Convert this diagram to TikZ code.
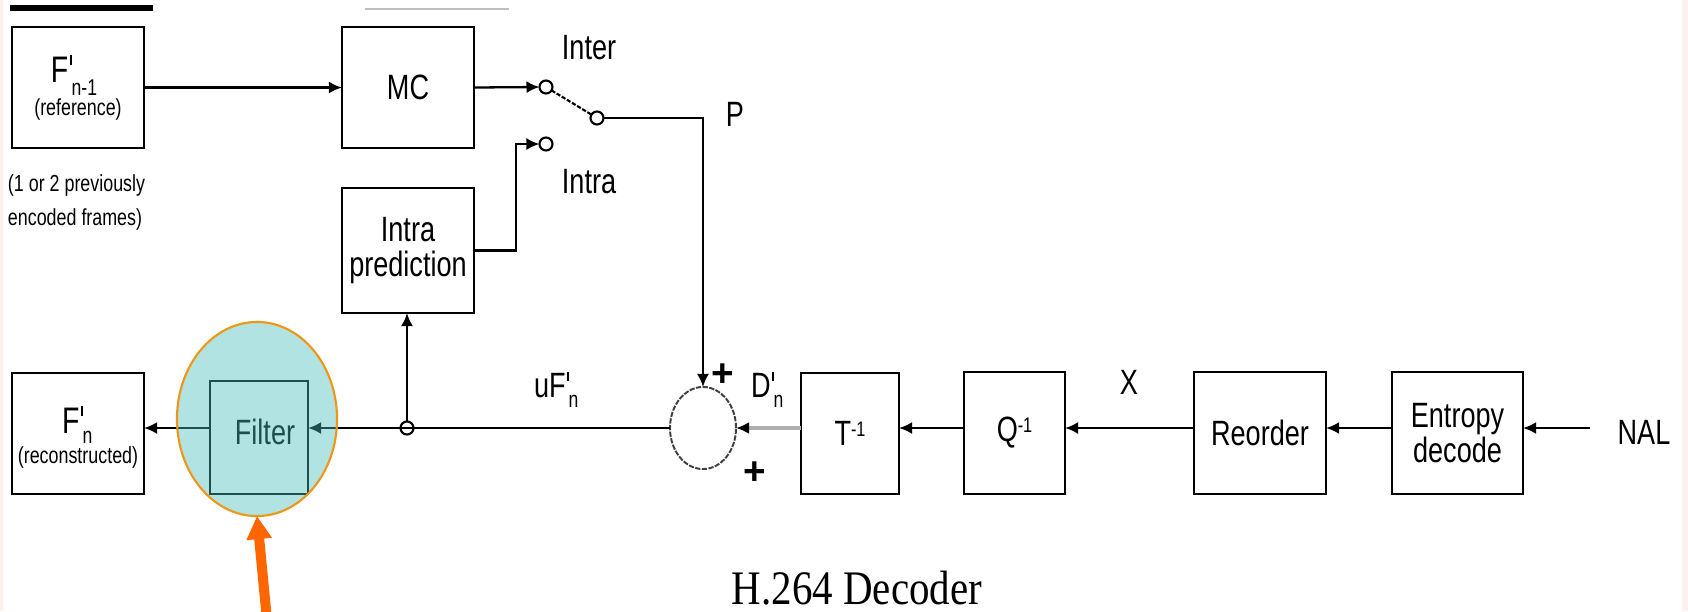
\documentclass[tikz,border=0pt]{standalone}
\usepackage{fontspec}
\setmainfont{Liberation Sans}
\newfontfamily\capfont{Liberation Serif}
\usetikzlibrary{arrows.meta,shapes.geometric}
\definecolor{hlfill}{RGB}{71,190,190}
\definecolor{hlline}{RGB}{240,150,20}
\definecolor{oarr}{RGB}{255,102,0}
\definecolor{pinkbg}{RGB}{252,241,236}
\definecolor{dgray}{RGB}{175,175,175}
\newcommand{\cn}[1]{\scalebox{0.77}[1]{#1}}
\newcommand{\prm}{\kern0.04em\rule[0.45em]{0.075em}{0.27em}}
\newcommand{\fs}[1]{\fontsize{#1}{#1}\selectfont}
\newcommand{\sbs}[2]{\raisebox{-#1}{\fs{6.5}#2}}
\begin{document}
\begin{tikzpicture}[x=0.01cm,y=-0.01cm,
  every node/.style={inner sep=0pt, outer sep=0pt},
  box/.style={draw, line width=0.7pt, font=\fs{10}, align=center},
  lbl/.style={font=\fs{10}},
  sml/.style={font=\fs{6.6}},
  contact/.style={circle, draw, line width=0.6pt, minimum size=0.13cm},
  wire/.style={line width=0.65pt},
  arr/.style={wire, -{Latex[length=1.3mm,width=1.2mm]}},
  blade/.style={line width=0.6pt, dash pattern=on 1.2pt off 0.5pt},
  gline/.style={draw=dgray, line width=1.1pt, -{Latex[length=1.3mm,width=1.2mm,color=black]}},
  plus/.style={font=\fs{11}\bfseries}]
\fill[white] (0,0) rectangle (1688,611);
\path[use as bounding box] (0,0) rectangle (1688,611);
\fill[pinkbg] (1682,0) rectangle (1688,611);
\fill[pinkbg] (0,0) rectangle (3,611);
\draw[line width=1.8pt] (10,8) -- (153,8);
\draw[line width=0.6pt, black!25] (365,9) -- (509,9);

% reference frame
\node[box, minimum width=1.32cm, minimum height=1.21cm] (fref) at (78,87.5) {};
\node[anchor=base west, font=\fs{10.5}] (frefF) at (51,82) {\cn{F\prm\sbs{3.7pt}{n-1}}};
\node[sml] (frefr) at (78,109) {\cn{(reference)}};
\node[anchor=west, sml] (prev1) at (8,185) {\cn{(1 or 2 previously}};
\node[anchor=west, sml] (prev2) at (8,219) {\cn{encoded frames)}};

% MC and intra prediction
\node[box, minimum width=1.32cm, minimum height=1.21cm] (mc) at (408,87.5) {\cn{MC}};
\node[box, minimum width=1.32cm, minimum height=1.25cm] (intra) at (408,250.5) {\cn{Intra}\\\cn{prediction}};

% switch
\node[contact] (c1) at (546,87) {};
\node[contact] (c2) at (546,144) {};
\node[contact] (c3) at (597,118) {};
\node[lbl] (linter) at (589,48) {\cn{Inter}};
\node[lbl] (lintra) at (589,182) {\cn{Intra}};
\node[lbl] (lp) at (735,114) {\cn{P}};

% reconstructed frame and filter
\node[box, minimum width=1.32cm, minimum height=1.21cm] (fn) at (78,433.5) {};
\node[anchor=base west, font=\fs{10.5}] (fnF) at (62,433) {\cn{F\prm\sbs{2.9pt}{n}}};
\node[sml] (fnr) at (78,457) {\cn{(reconstructed)}};
\node[box, minimum width=0.98cm, minimum height=1.13cm] (filt) at (259,437.5) {};
\node[lbl] (filtt) at (265,432) {\cn{Filter}};
\node[circle, draw, line width=0.6pt, minimum size=0.13cm] (j) at (407,428) {};

% adder
\node[ellipse, draw=black!75, line width=0.55pt, dash pattern=on 1.5pt off 0.4pt, minimum width=0.66cm, minimum height=0.82cm] (sum) at (703,428) {};
\node[plus] (p1) at (723,375) {+};
\node[plus] (p2) at (755,473) {+};
\node[anchor=base west, lbl] (uf) at (534,397) {\cn{uF\prm\sbs{2.9pt}{n}}};
\node[anchor=base west, lbl] (df) at (751,397) {\cn{D\prm\sbs{2.9pt}{n}}};

% decoding chain
\node[box, minimum width=0.98cm, minimum height=1.21cm] (t) at (850,433.5) {\cn{T\raisebox{2.6pt}{\fs{6}-1}}};
\node[box, minimum width=1.01cm, minimum height=1.22cm] (q) at (1014.5,433) {\cn{Q\raisebox{2.6pt}{\fs{6}-1}}};
\node[box, minimum width=1.32cm, minimum height=1.22cm] (r) at (1260,433) {\cn{Reorder}};
\node[box, minimum width=1.31cm, minimum height=1.22cm] (e) at (1457.5,433) {\cn{Entropy}\\\cn{decode}};
\node[lbl] (lx) at (1129,382) {\cn{X}};
\node[lbl] (lnal) at (1644,432) {\cn{NAL}};
\coordinate (ml) at (0,428);
\coordinate (nalin) at (1590,428);

% connectors
\draw[arr] (fref) -- (mc);
\draw[arr] (mc.east) -- (c1.west);
\draw[arr] (intra.east) -- ++(42,0) |- (c2.west);
\draw[blade] (c1) -- (c3);
\draw[arr] (c3.east) -| (sum.north);
\draw[arr] (j.north) -- (j.north |- intra.south);
\draw[arr] (sum.west) -- (filt.east |- ml);
\draw[arr] (filt.west |- ml) -- (fn.east |- ml);
\draw[gline] (t.west |- ml) -- (sum.east);
\draw[arr] (q.west |- ml) -- (t.east |- ml);
\draw[arr] (r.west |- ml) -- (q.east |- ml);
\draw[arr] (e.west |- ml) -- (r.east |- ml);
\draw[arr] (nalin) -- (e.east |- ml);

% caption
\node[font=\capfont\fs{13.7}] (cap) at (857,588) {\scalebox{0.85}[1]{H.264 Decoder}};

% highlight overlay and pointer
\node[ellipse, minimum width=1.60cm, minimum height=1.94cm, fill=hlfill, fill opacity=0.42, draw=hlline, draw opacity=1, line width=0.6pt] (hl) at (257,419) {};
\coordinate (otail) at (267,620);
\draw[oarr, line width=0.1cm, -{Triangle[length=0.23cm,width=0.24cm]}] (otail) -- (hl.south);
\end{tikzpicture}
\end{document}
